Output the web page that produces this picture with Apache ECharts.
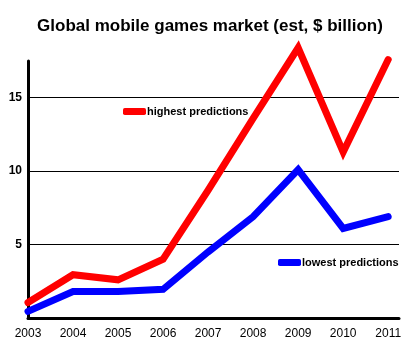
<!DOCTYPE html>
<html><head><meta charset="utf-8">
<script src="https://cdn.jsdelivr.net/npm/echarts@6/dist/echarts.min.js"></script>
<style>html,body{margin:0;padding:0;background:#fff}#c{width:420px;height:360px}</style>
</head><body><div id="c"></div>
<script>
const years = [2003, 2004, 2005, 2006, 2007, 2008, 2009, 2010, 2011];
const highest = [1.05, 2.95, 2.6, 4.0, 8.7, 13.6, 18.4, 11.3, 17.6];
const lowest = [0.45, 1.8, 1.8, 1.95, 4.5, 6.9, 10.1, 6.1, 6.9];
const yTicks = [5, 10, 15];
const titleText = 'Global mobile games market (est, $ billion)';
const seriesNames = ['highest predictions', 'lowest predictions'];

const font = 'Liberation Sans, Arial, sans-serif';
const chart = echarts.init(document.getElementById('c'), null, {renderer: 'canvas'});
chart.setOption({
  animation: false,
  backgroundColor: '#fff',
  title: {text: titleText, left: 'center', top: 13,
    textStyle: {fontFamily: font, fontSize: 17, fontWeight: 'bold', color: '#000'}},
  grid: {left: 28, right: 21, top: 61, bottom: 42, containLabel: false},
  legend: [
    {data: [seriesNames[0]], left: 123, top: 106, padding: 0, itemWidth: 23, itemHeight: 7, icon: 'roundRect',
      textStyle: {fontFamily: font, fontSize: 11, fontWeight: 'bold', color: '#000', padding: [0,0,0,-4]}},
    {data: [seriesNames[1]], left: 278, top: 257, padding: 0, itemWidth: 23, itemHeight: 7, icon: 'roundRect',
      textStyle: {fontFamily: font, fontSize: 11, fontWeight: 'bold', color: '#000', padding: [0,0,0,-4]}}
  ],
  xAxis: {type: 'value', min: 2003, max: 2011.24, interval: 1,
    axisLine: {show: true, onZero: false, lineStyle: {color: '#000', width: 3}},
    axisTick: {show: false}, splitLine: {show: false},
    axisLabel: {showMaxLabel: false, color: '#000', fontFamily: font, fontSize: 12, margin: 10,
      formatter: v => (years.includes(Math.round(v)) && Math.abs(v - Math.round(v)) < 1e-6) ? String(Math.round(v)) : ''}},
  yAxis: {type: 'value', min: 0, max: 17.5, interval: 5,
    axisLine: {show: true, lineStyle: {color: '#000', width: 3}},
    axisTick: {show: false},
    splitLine: {show: true, showMinLine: false, showMaxLine: false, lineStyle: {color: '#000', width: 1}},
    axisLabel: {showMinLabel: false, showMaxLabel: false, color: '#000', fontFamily: font, fontSize: 12, fontWeight: 'bold', margin: 6,
      formatter: v => yTicks.includes(v) ? String(v) : ''}},
  series: [
    {name: seriesNames[0], type: 'line', clip: false, showSymbol: false, symbol: 'none',
      data: years.map((y, i) => [y, highest[i]]),
      itemStyle: {color: '#ff0000'}, lineStyle: {color: '#ff0000', width: 7, join: 'miter', cap: 'round'}},
    {name: seriesNames[1], type: 'line', clip: false, showSymbol: false, symbol: 'none',
      data: years.map((y, i) => [y, lowest[i]]),
      itemStyle: {color: '#0000ff'}, lineStyle: {color: '#0000ff', width: 7, join: 'miter', cap: 'round'}}
  ]
});
</script></body></html>
